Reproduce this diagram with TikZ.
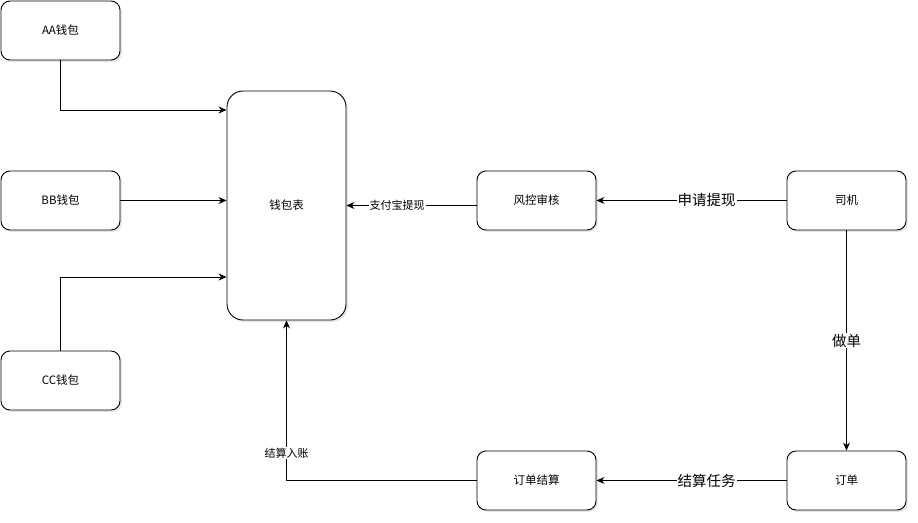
\documentclass[tikz,border=0pt]{standalone}
\usepackage{fontspec}
\newfontfamily\cjk{Noto Sans CJK SC}
\usetikzlibrary{arrows.meta,shadows}

\tikzset{
  box/.style={draw, rounded corners=9pt, minimum width=119pt, minimum height=59pt,
    fill=white, drop shadow={opacity=0.2, shadow xshift=2pt, shadow yshift=-2pt},
    font=\cjk\fontsize{11.5}{13}\selectfont},
  flow/.style={-{Stealth[length=8pt,width=7pt]}},
  smalllab/.style={fill=white, inner sep=1pt, font=\cjk\fontsize{11}{13}\selectfont},
  biglab/.style={fill=white, inner sep=1pt, font=\cjk\fontsize{14.5}{16}\selectfont},
}

\begin{document}
\begin{tikzpicture}[x=1pt,y=-1pt,line width=0.9pt]
\useasboundingbox (0,0) rectangle (918,522);

% wallets
\node[box] (aa) at (60.5,30.5) {AA钱包};
\node[box] (bb) at (60.5,200.5) {BB钱包};
\node[box] (cc) at (60.5,380.5) {CC钱包};

% wallet table
\node[box, rounded corners=16pt, minimum height=229pt] (wallet) at (286.5,205.5) {钱包表};

% right side
\node[box] (risk) at (536.5,200.5) {风控审核};
\node[box] (driver) at (846.5,200.5) {司机};
\node[box] (order) at (846.5,480.5) {订单};
\node[box] (settle) at (536.5,480.5) {订单结算};

% connectors
\draw[flow] (aa.south) |- ([yshift=95.5pt]wallet.west);
\draw[flow] (bb.east) -- (bb.east -| wallet.west);
\draw[flow] (cc.north) |- ([yshift=-71.5pt]wallet.west);

\draw[flow] (risk.west |- wallet.east) -- (wallet.east)
  node[smalllab, pos=0.61] {支付宝提现};
\draw[flow] (driver.west) -- (risk.east)
  node[biglab, pos=0.42] {申请提现};
\draw[flow] (driver.south) -- (order.north)
  node[biglab, pos=0.5] {做单};
\draw[flow] (order.west) -- (settle.east)
  node[biglab, pos=0.42] {结算任务};
\draw[flow] (settle.west) -| (wallet.south)
  node[smalllab, pos=0.585] {结算入账};
\end{tikzpicture}
\end{document}
